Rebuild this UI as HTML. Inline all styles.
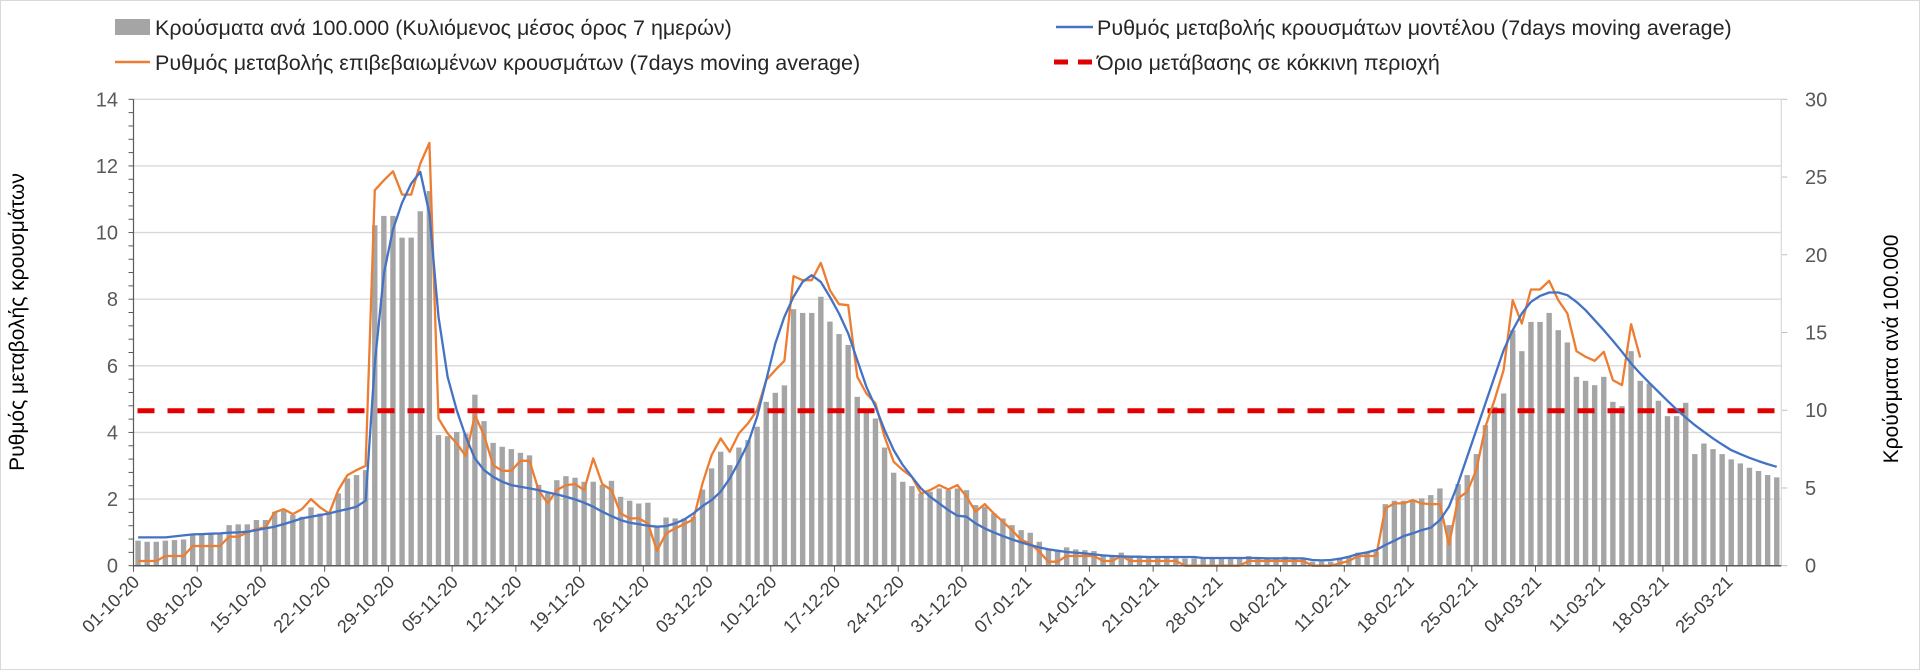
<!DOCTYPE html>
<html><head><meta charset="utf-8">
<style>
html,body{margin:0;padding:0;background:#fff;}
svg{display:block;font-family:"Liberation Sans",sans-serif;}
</style></head>
<body>
<svg id="chart" width="1920" height="670" viewBox="0 0 1920 670" xmlns="http://www.w3.org/2000/svg">
<rect x="0.5" y="0.5" width="1919" height="669" fill="#fff" stroke="#d9d9d9"/>
<g id="legend">
  <g>
    <rect x="115" y="19" width="35" height="16" fill="#a5a5a5"/>
    <text x="155" y="35" font-size="21.5" fill="#262626">Κρούσματα ανά 100.000 (Κυλιόμενος μέσος όρος 7 ημερών)</text>
  </g>
  <g>
    <line x1="115" y1="62" x2="150" y2="62" stroke="#ED7D31" stroke-width="2.5"/>
    <text x="155" y="70" font-size="21.5" fill="#262626">Ρυθμός μεταβολής επιβεβαιωμένων κρουσμάτων (7days moving average)</text>
  </g>
  <g>
    <line x1="1056" y1="27" x2="1093" y2="27" stroke="#4472C4" stroke-width="2.5"/>
    <text x="1097" y="35" font-size="21.5" fill="#262626">Ρυθμός μεταβολής κρουσμάτων μοντέλου (7days moving average)</text>
  </g>
  <g>
    <line x1="1054" y1="62" x2="1092" y2="62" stroke="#E00000" stroke-width="5" stroke-dasharray="14,10"/>
    <text x="1097" y="70" font-size="21.5" fill="#262626">Όριο μετάβασης σε κόκκινη περιοχή</text>
  </g>
</g>
<text transform="translate(24,322) rotate(-90)" text-anchor="middle" font-size="21" fill="#000">Ρυθμός μεταβολής κρουσμάτων</text>
<text transform="translate(1898,349) rotate(-90)" text-anchor="middle" font-size="21" fill="#000">Κρούσματα ανά 100.000</text>
<g id="grid"></g>
<g id="bars"></g>
<g id="lines"></g>
<g id="axes"></g>
</svg>
<script>
const startDate = [2020, 9, 1];
const categoryCount = 181;
const tickLabels = ["01-10-20","08-10-20","15-10-20","22-10-20","29-10-20","05-11-20","12-11-20","19-11-20","26-11-20","03-12-20","10-12-20","17-12-20","24-12-20","31-12-20","07-01-21","14-01-21","21-01-21","28-01-21","04-02-21","11-02-21","18-02-21","25-02-21","04-03-21","11-03-21","18-03-21","25-03-21"];
const leftTicks = [0,2,4,6,8,10,12,14];
const rightTicks = [0,5,10,15,20,25,30];
const threshold = [4.65];
const casesPer100k = [1.61,1.54,1.54,1.61,1.65,1.69,1.97,2.0,2.04,2.08,2.61,2.66,2.66,2.94,2.94,3.47,3.54,3.26,3.15,3.75,3.36,3.36,4.65,5.61,5.83,6.15,21.9,22.5,22.5,21.1,21.1,22.8,24.1,8.4,8.33,8.6,8.5,11.0,9.3,7.9,7.65,7.5,7.26,7.1,5.2,4.65,5.5,5.76,5.66,5.4,5.4,5.2,5.46,4.43,4.18,4.0,4.05,2.5,3.1,3.04,3.04,3.15,4.9,6.26,7.33,6.47,7.6,8.08,8.94,10.54,11.12,11.6,16.5,16.26,16.26,17.3,15.7,14.9,14.2,10.86,10.0,9.47,7.6,5.98,5.4,5.12,4.65,4.76,4.97,4.86,4.97,4.86,3.9,3.8,3.36,3.04,2.61,2.29,2.12,1.54,1.11,0.96,1.18,1.05,1.0,0.94,0.69,0.62,0.84,0.58,0.62,0.58,0.62,0.62,0.62,0.47,0.47,0.51,0.47,0.51,0.51,0.47,0.62,0.54,0.54,0.54,0.58,0.54,0.47,0.26,0.26,0.26,0.47,0.58,0.84,0.9,0.9,3.96,4.18,4.18,4.22,4.33,4.54,4.97,2.61,5.25,5.83,7.18,9.04,10.22,11.08,15.15,13.8,15.68,15.68,16.26,15.15,14.36,12.15,11.89,11.61,12.15,10.54,10.26,13.8,11.89,11.72,10.61,9.62,9.62,10.48,7.18,7.86,7.5,7.18,6.84,6.58,6.3,6.09,5.83,5.68];
const confirmedRate = [0.14,0.14,0.14,0.29,0.29,0.29,0.59,0.59,0.59,0.59,0.87,0.87,1.0,1.1,1.15,1.6,1.7,1.55,1.7,2.0,1.75,1.57,2.27,2.72,2.87,3.0,11.27,11.57,11.84,11.14,11.14,12.07,12.69,4.42,3.97,3.67,3.29,4.52,3.92,3.02,2.85,2.85,3.15,3.15,2.27,1.87,2.27,2.42,2.45,2.27,3.22,2.45,2.27,1.57,1.42,1.42,1.27,0.45,0.97,1.12,1.25,1.39,2.47,3.32,3.82,3.42,3.97,4.27,4.67,5.57,5.87,6.15,8.69,8.57,8.57,9.09,8.27,7.85,7.82,5.67,5.17,4.87,3.87,3.12,2.87,2.67,2.17,2.27,2.42,2.29,2.42,2.07,1.62,1.85,1.57,1.32,1.07,0.77,0.67,0.42,0.12,0.12,0.29,0.29,0.29,0.29,0.14,0.14,0.29,0.14,0.14,0.14,0.14,0.14,0.14,0,0,0,0,0,0,0,0.14,0.14,0.14,0.14,0.14,0.14,0.14,0,0,0,0.07,0.14,0.29,0.29,0.29,1.72,1.87,1.87,1.97,1.87,1.85,1.85,0.62,2.02,2.22,2.87,4.17,4.97,5.87,7.97,7.27,8.29,8.29,8.55,7.97,7.57,6.44,6.27,6.15,6.42,5.57,5.42,7.25,6.25];
const modelRate = [0.85,0.85,0.85,0.85,0.88,0.91,0.94,0.95,0.96,0.97,0.99,1.0,1.02,1.07,1.12,1.17,1.25,1.33,1.42,1.47,1.52,1.57,1.64,1.7,1.77,1.95,6.07,8.77,10.1,10.9,11.47,11.82,10.57,7.47,5.67,4.67,3.87,3.22,2.87,2.67,2.52,2.42,2.37,2.32,2.27,2.2,2.14,2.07,1.99,1.89,1.77,1.62,1.49,1.37,1.29,1.25,1.2,1.17,1.19,1.27,1.39,1.57,1.79,1.97,2.22,2.62,3.12,3.67,4.47,5.57,6.67,7.47,8.07,8.52,8.72,8.52,8.07,7.57,6.97,6.17,5.37,4.77,4.07,3.47,3.02,2.67,2.32,2.07,1.87,1.67,1.5,1.47,1.27,1.12,1.0,0.89,0.79,0.7,0.62,0.55,0.49,0.45,0.41,0.39,0.37,0.34,0.31,0.29,0.28,0.27,0.27,0.26,0.26,0.26,0.26,0.26,0.26,0.23,0.23,0.23,0.23,0.23,0.23,0.23,0.22,0.22,0.22,0.22,0.22,0.17,0.16,0.17,0.21,0.27,0.35,0.4,0.47,0.62,0.75,0.89,0.97,1.07,1.14,1.37,1.77,2.47,3.27,4.07,4.87,5.67,6.47,7.07,7.57,7.92,8.1,8.2,8.2,8.12,7.92,7.67,7.37,7.07,6.75,6.42,6.07,5.77,5.49,5.22,4.95,4.69,4.45,4.22,4.02,3.82,3.64,3.47,3.35,3.24,3.14,3.05,2.97];

const NS = "http://www.w3.org/2000/svg";
const X0 = 133.5, X1 = 1781.3, Y0 = 565.7, YT = 99.3;
const bandW = (X1 - X0) / categoryCount;
const leftMax = 14, rightMax = 30;
function xBand(i){ return X0 + i * bandW; }
function xCenter(i){ return X0 + (i + 0.5) * bandW; }
function yLeft(v){ return Y0 - v / leftMax * (Y0 - YT); }
function yRight(v){ return Y0 - v / rightMax * (Y0 - YT); }
function mk(tag, attrs, parent){
  const e = document.createElementNS(NS, tag);
  for (const k in attrs) e.setAttribute(k, attrs[k]);
  parent.appendChild(e);
  return e;
}
const grid = document.getElementById('grid');
const bars = document.getElementById('bars');
const lines = document.getElementById('lines');
const axes = document.getElementById('axes');

leftTicks.forEach(function(v){
  if (v > 0) {
    const g = mk('line', {x1:X0, x2:X1, y1:yLeft(v), y2:yLeft(v), stroke:'#d9d9d9', 'stroke-width':1.3}, grid);
    
    
  }
  const t = mk('text', {x:118, y:yLeft(v)+7, 'text-anchor':'end', 'font-size':20, fill:'#595959'}, axes);
  t.textContent = v;
  
  
});
for (let v = 0; v <= leftMax + 0.001; v += 0.4) {
  mk('line', {x1:X0-5, x2:X0, y1:yLeft(v), y2:yLeft(v), stroke:'#595959', 'stroke-width':1}, axes);
}
rightTicks.forEach(function(v){
  mk('line', {x1:X1, x2:X1+6, y1:yRight(v), y2:yRight(v), stroke:'#bfbfbf', 'stroke-width':1}, axes);
  const t = mk('text', {x:1805, y:yRight(v)+7, 'font-size':20, fill:'#595959'}, axes);
  t.textContent = v;
  
  
});

casesPer100k.forEach(function(v, i){
  const r = mk('rect', {x:xCenter(i)-2.7, y:yRight(v), width:5.4, height:Y0 - yRight(v), fill:'#a5a5a5'}, bars);
  
  
});

const thr = mk('line', {x1:X0+4, x2:X1, y1:yLeft(threshold[0]), y2:yLeft(threshold[0]), stroke:'#E00000', 'stroke-width':5, 'stroke-dasharray':'17,13'}, lines);



function path(arr){
  let d = '';
  arr.forEach(function(v, i){ if (v === null || v === undefined) return; d += (d ? 'L' : 'M') + xCenter(i).toFixed(1) + ',' + yLeft(v).toFixed(1); });
  return d;
}
const op = mk('path', {d:path(confirmedRate), fill:'none', stroke:'#ED7D31', 'stroke-width':2.3, 'stroke-linejoin':'round'}, lines);


const bp = mk('path', {d:path(modelRate), fill:'none', stroke:'#4472C4', 'stroke-width':2.3, 'stroke-linejoin':'round'}, lines);



mk('line', {x1:X0, x2:X0, y1:YT, y2:Y0, stroke:'#595959', 'stroke-width':1.2}, axes);
mk('line', {x1:X1, x2:X1, y1:YT, y2:Y0, stroke:'#d9d9d9', 'stroke-width':1.2}, axes);
mk('line', {x1:X0, x2:X1, y1:Y0, y2:Y0, stroke:'#595959', 'stroke-width':1.5}, axes);
tickLabels.forEach(function(lab, k){
  const x = xBand(k * 7);
  mk('line', {x1:x, x2:x, y1:Y0, y2:Y0+6, stroke:'#595959', 'stroke-width':1}, axes);
  const t = mk('text', {transform:'translate(' + (x+7) + ',583) rotate(-45)', 'text-anchor':'end', 'font-size':18, fill:'#404040'}, axes);
  t.textContent = lab;
  
  
});
</script>
</body></html>
